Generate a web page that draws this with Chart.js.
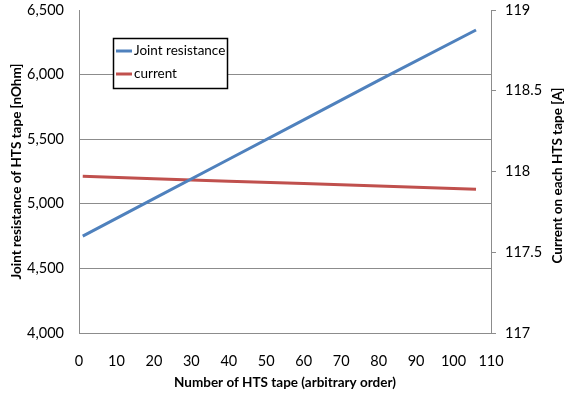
<!DOCTYPE html>
<html>
<head>
<meta charset="utf-8">
<script src="https://cdn.jsdelivr.net/npm/chart.js@4"></script>
<style>
  html, body { margin: 0; padding: 0; background: #ffffff; }
  #wrap { width: 565px; height: 399px; }
</style>
</head>
<body>
<div id="wrap"><canvas id="c" width="565" height="399"></canvas></div>
<script>
// ---- data ----
const tapeNumbers = [1, 20, 40, 60, 80, 106];
const jointResistance = [4750, 5040, 5345, 5650, 5955, 6345];
const currentValues = [117.97, 117.955, 117.94, 117.925, 117.91, 117.89];
const xTicks = [0, 10, 20, 30, 40, 50, 60, 70, 80, 90, 100, 110];
const leftTicks = [4000, 4500, 5000, 5500, 6000, 6500];
const rightTicks = [117, 117.5, 118, 118.5, 119];
const seriesLabels = ['Joint resistance', 'current'];
const xTitle = 'Number of HTS tape (arbitrary order)';
const leftTitle = 'Joint resistance of HTS tape [nOhm]';
const rightTitle = 'Current on each HTS tape [A]';

const FONT = 'Lato, "Liberation Sans", sans-serif';
const GRID = '#8c8c8c';

const legendPlugin = {
  id: 'boxLegend',
  afterDatasetsDraw(chart) {
    const ctx = chart.ctx;
    const x0 = 113, y0 = 38, w = 114, h = 50;
    ctx.save();
    ctx.fillStyle = '#ffffff';
    ctx.fillRect(x0, y0, w, h);
    ctx.strokeStyle = '#000000';
    ctx.lineWidth = 1.5;
    ctx.strokeRect(x0 + 0.5, y0 + 0.5, w, h);
    ctx.font = '13.5px ' + FONT;
    ctx.textBaseline = 'middle';
    ctx.textAlign = 'left';
    chart.data.datasets.forEach((ds, i) => {
      const yy = y0 + 13 + i * 23;
      ctx.strokeStyle = ds.borderColor;
      ctx.lineWidth = 3;
      ctx.beginPath();
      ctx.moveTo(x0 + 3, yy);
      ctx.lineTo(x0 + 19, yy);
      ctx.stroke();
      ctx.fillStyle = '#000000';
      ctx.fillText(ds.label, x0 + 21, yy);
    });
    ctx.restore();
  }
};

const rightTitlePlugin = {
  id: 'rightTitle',
  afterDraw(chart) {
    const ctx = chart.ctx;
    const ca = chart.chartArea;
    ctx.save();
    ctx.translate(558, (ca.top + ca.bottom) / 2 + 4);
    ctx.rotate(-Math.PI / 2);
    ctx.font = 'bold 13.5px ' + FONT;
    ctx.fillStyle = '#000000';
    ctx.textAlign = 'center';
    ctx.textBaseline = 'middle';
    ctx.fillText(rightTitle, 0, 0);
    ctx.restore();
  }
};

function fixVertical(width) {
  return function (s) {
    s.width = width;
    s.paddingTop = 10;
    s.paddingBottom = 0;
  };
}

new Chart(document.getElementById('c'), {
  type: 'line',
  data: {
    datasets: [
      {
        label: seriesLabels[0],
        data: tapeNumbers.map((x, i) => ({ x: x, y: jointResistance[i] })),
        borderColor: '#4f81bd',
        borderWidth: 3,
        pointRadius: 0,
        tension: 0,
        yAxisID: 'y'
      },
      {
        label: seriesLabels[1],
        data: tapeNumbers.map((x, i) => ({ x: x, y: currentValues[i] })),
        borderColor: '#c0504d',
        borderWidth: 3,
        pointRadius: 0,
        tension: 0,
        yAxisID: 'y2'
      }
    ]
  },
  options: {
    responsive: false,
    animation: false,
    devicePixelRatio: 1,
    layout: { padding: { top: 0, left: 0, right: 0, bottom: 0 } },
    plugins: { legend: { display: false }, tooltip: { enabled: false } },
    scales: {
      x: {
        type: 'linear',
        min: 0, max: 110,
        afterBuildTicks(s) { s.ticks = xTicks.map(v => ({ value: v })); },
        afterFit(s) { s.height = 66; },
        grid: { display: false, drawTicks: false },
        border: { display: true, color: GRID, width: 1 },
        ticks: { padding: 20, font: { family: FONT, size: 14.5 }, color: '#000', maxRotation: 0 },
        title: { display: true, text: xTitle, font: { family: FONT, size: 13.5, weight: 'bold' }, color: '#000', padding: { top: 0, bottom: 8 } }
      },
      y: {
        position: 'left',
        min: 4000, max: 6500,
        afterBuildTicks(s) { s.ticks = leftTicks.map(v => ({ value: v })); },
        afterFit: fixVertical(79),
        grid: {
          drawTicks: false,
          color: ctx => (ctx.tick && ctx.tick.value === 6500) ? 'rgba(0,0,0,0)' : GRID,
          lineWidth: 1
        },
        border: { display: true, color: GRID, width: 1 },
        ticks: {
          padding: 15,
          font: { family: FONT, size: 14.5 }, color: '#000',
          callback: v => v.toLocaleString('en-US')
        },
        title: { display: true, text: leftTitle, font: { family: FONT, size: 13.5, weight: 'bold' }, color: '#000', padding: { top: 9, bottom: 0 } }
      },
      y2: {
        position: 'right',
        min: 117, max: 119,
        afterBuildTicks(s) { s.ticks = rightTicks.map(v => ({ value: v })); },
        afterFit: fixVertical(74),
        grid: { drawOnChartArea: false, drawTicks: true, tickLength: 5, color: GRID },
        border: { display: true, color: GRID, width: 1 },
        ticks: {
          padding: 9,
          font: { family: FONT, size: 14.5 }, color: '#000',
          callback: v => String(v)
        }
      }
    }
  },
  plugins: [legendPlugin, rightTitlePlugin]
});
</script>
</body>
</html>
